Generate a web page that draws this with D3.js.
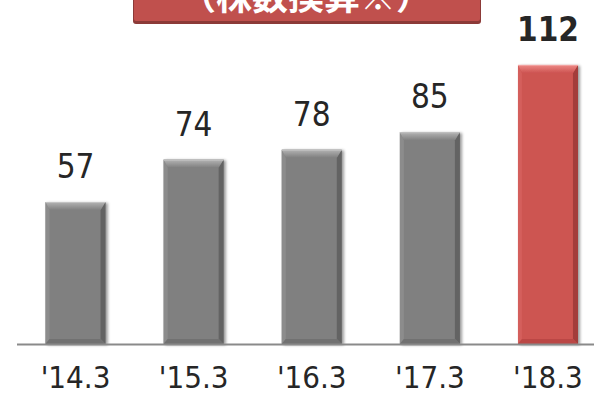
<!DOCTYPE html>
<html>
<head>
<meta charset="utf-8">
<script src="https://cdn.jsdelivr.net/npm/d3@7"></script>
<style>
  html, body { margin: 0; padding: 0; background: #fff; }
  svg { display: block; }
  .num { font-family: 'DejaVu Sans Condensed', 'DejaVu Sans', sans-serif; font-stretch: condensed; }
</style>
</head>
<body>
<svg id="chart" width="594" height="395"></svg>
<script>
// ---- data ----
const categories = ["'14.3", "'15.3", "'16.3", "'17.3", "'18.3"];
const values = [57, 74, 78, 85, 112];
const highlight = [false, false, false, false, true];
const titleText = "（株数換算※）";

// ---- layout ----
const W = 594, H = 395;
const svg = d3.select("#chart");
const x = d3.scaleBand().domain(categories).range([16, 607.5]).paddingInner(0.492).paddingOuter(0.25);
const y = d3.scaleLinear().domain([0, 120]).range([344, 45]);

const defs = svg.append("defs");
const f = defs.append("filter").attr("id", "shadow").attr("x", "-20%").attr("y", "-10%").attr("width", "140%").attr("height", "120%");
f.append("feGaussianBlur").attr("in", "SourceAlpha").attr("stdDeviation", 1.5).attr("result", "b");
f.append("feOffset").attr("in", "b").attr("dx", 2).attr("dy", 1).attr("result", "o");
f.append("feComponentTransfer").attr("in", "o").attr("result", "o2")
  .append("feFuncA").attr("type", "linear").attr("slope", 0.4);
const m = f.append("feMerge");
m.append("feMergeNode").attr("in", "o2");
m.append("feMergeNode").attr("in", "SourceGraphic");

const pal = {
  gray: { body: "#808080", top: "#b4b4b4", bottom: "#717171", left: "#8c8c8c", right: "#646464", edge: "#c4c4c4" },
  red:  { body: "#cd5451", top: "#ee8a87", bottom: "#bb4744", left: "#d45e5b", right: "#a33d3a", edge: "#f2a5a3" }
};
["gray", "red"].forEach(k => {
  const lg = defs.append("linearGradient").attr("id", "top-" + k).attr("x1", 0).attr("y1", 0).attr("x2", 0).attr("y2", 1);
  lg.append("stop").attr("offset", 0).attr("stop-color", pal[k].top);
  lg.append("stop").attr("offset", 1).attr("stop-color", pal[k].body);
});

// title box
const tb = svg.append("g");
tb.append("rect").attr("x", 133).attr("y", -10).attr("width", 348).attr("height", 34).attr("rx", 3)
  .attr("fill", "#8c3a38");
tb.append("rect").attr("x", 134).attr("y", -10).attr("width", 346).attr("height", 31).attr("rx", 2)
  .attr("fill", "#c0504d");
tb.append("text").attr("x", 306).attr("y", 10).attr("text-anchor", "middle")
  .attr("font-family", "'Noto Sans CJK JP', sans-serif").attr("font-weight", "bold")
  .attr("font-size", 36).attr("fill", "#fff").text(titleText);

// bars
const bv = 8; // bevel depth
const bars = svg.append("g").selectAll("g").data(values).join("g").attr("filter", "url(#shadow)");
bars.each(function(d, i) {
  const g = d3.select(this);
  const k = highlight[i] ? "red" : "gray";
  const c = pal[k];
  const x0 = x(categories[i]), x1 = x0 + x.bandwidth();
  const y0 = y(d), y1 = y(0);
  g.append("rect").attr("x", x0).attr("y", y0).attr("width", x1 - x0).attr("height", y1 - y0).attr("fill", c.body);
  g.append("polygon").attr("points", [[x0, y0], [x0 + 4, y0 + bv], [x0 + 4, y1 - 5], [x0, y1]].join(" ")).attr("fill", c.left);
  g.append("polygon").attr("points", [[x1, y0], [x1 - 5, y0 + bv], [x1 - 5, y1 - 5], [x1, y1]].join(" ")).attr("fill", c.right);
  g.append("polygon").attr("points", [[x0, y1], [x0 + 4, y1 - 5], [x1 - 5, y1 - 5], [x1, y1]].join(" ")).attr("fill", c.bottom);
  g.append("polygon").attr("points", [[x0, y0], [x1, y0], [x1 - 5, y0 + bv], [x0 + 4, y0 + bv]].join(" ")).attr("fill", "url(#top-" + k + ")");
  g.append("line").attr("x1", x0).attr("x2", x1).attr("y1", y0 + 0.5).attr("y2", y0 + 0.5).attr("stroke", c.edge).attr("stroke-width", 1);
});

// axis line
svg.append("line").attr("x1", 17).attr("x2", W).attr("y1", y(0) + 0.5).attr("y2", y(0) + 0.5)
  .attr("stroke", "#8a8a8a").attr("stroke-width", 2);

// value labels
svg.append("g").selectAll("text").data(values).join("text")
  .attr("class", "num")
  .attr("x", (d, i) => x(categories[i]) + x.bandwidth() / 2)
  .attr("y", d => y(d) - 24)
  .attr("text-anchor", "middle")
  .attr("font-size", 33)
  .attr("font-weight", (d, i) => highlight[i] ? "bold" : "normal")
  .attr("fill", "#262626")
  .text(d => d);

// category labels
const xAxis = d3.axisBottom(x).tickSize(0).tickPadding(0);
const ax = svg.append("g").attr("transform", "translate(0,388)").call(xAxis);
ax.select(".domain").remove();
ax.selectAll("text").attr("class", "num").attr("dy", 0).attr("y", 0)
  .attr("font-size", 31).attr("fill", "#262626");
</script>
</body>
</html>
